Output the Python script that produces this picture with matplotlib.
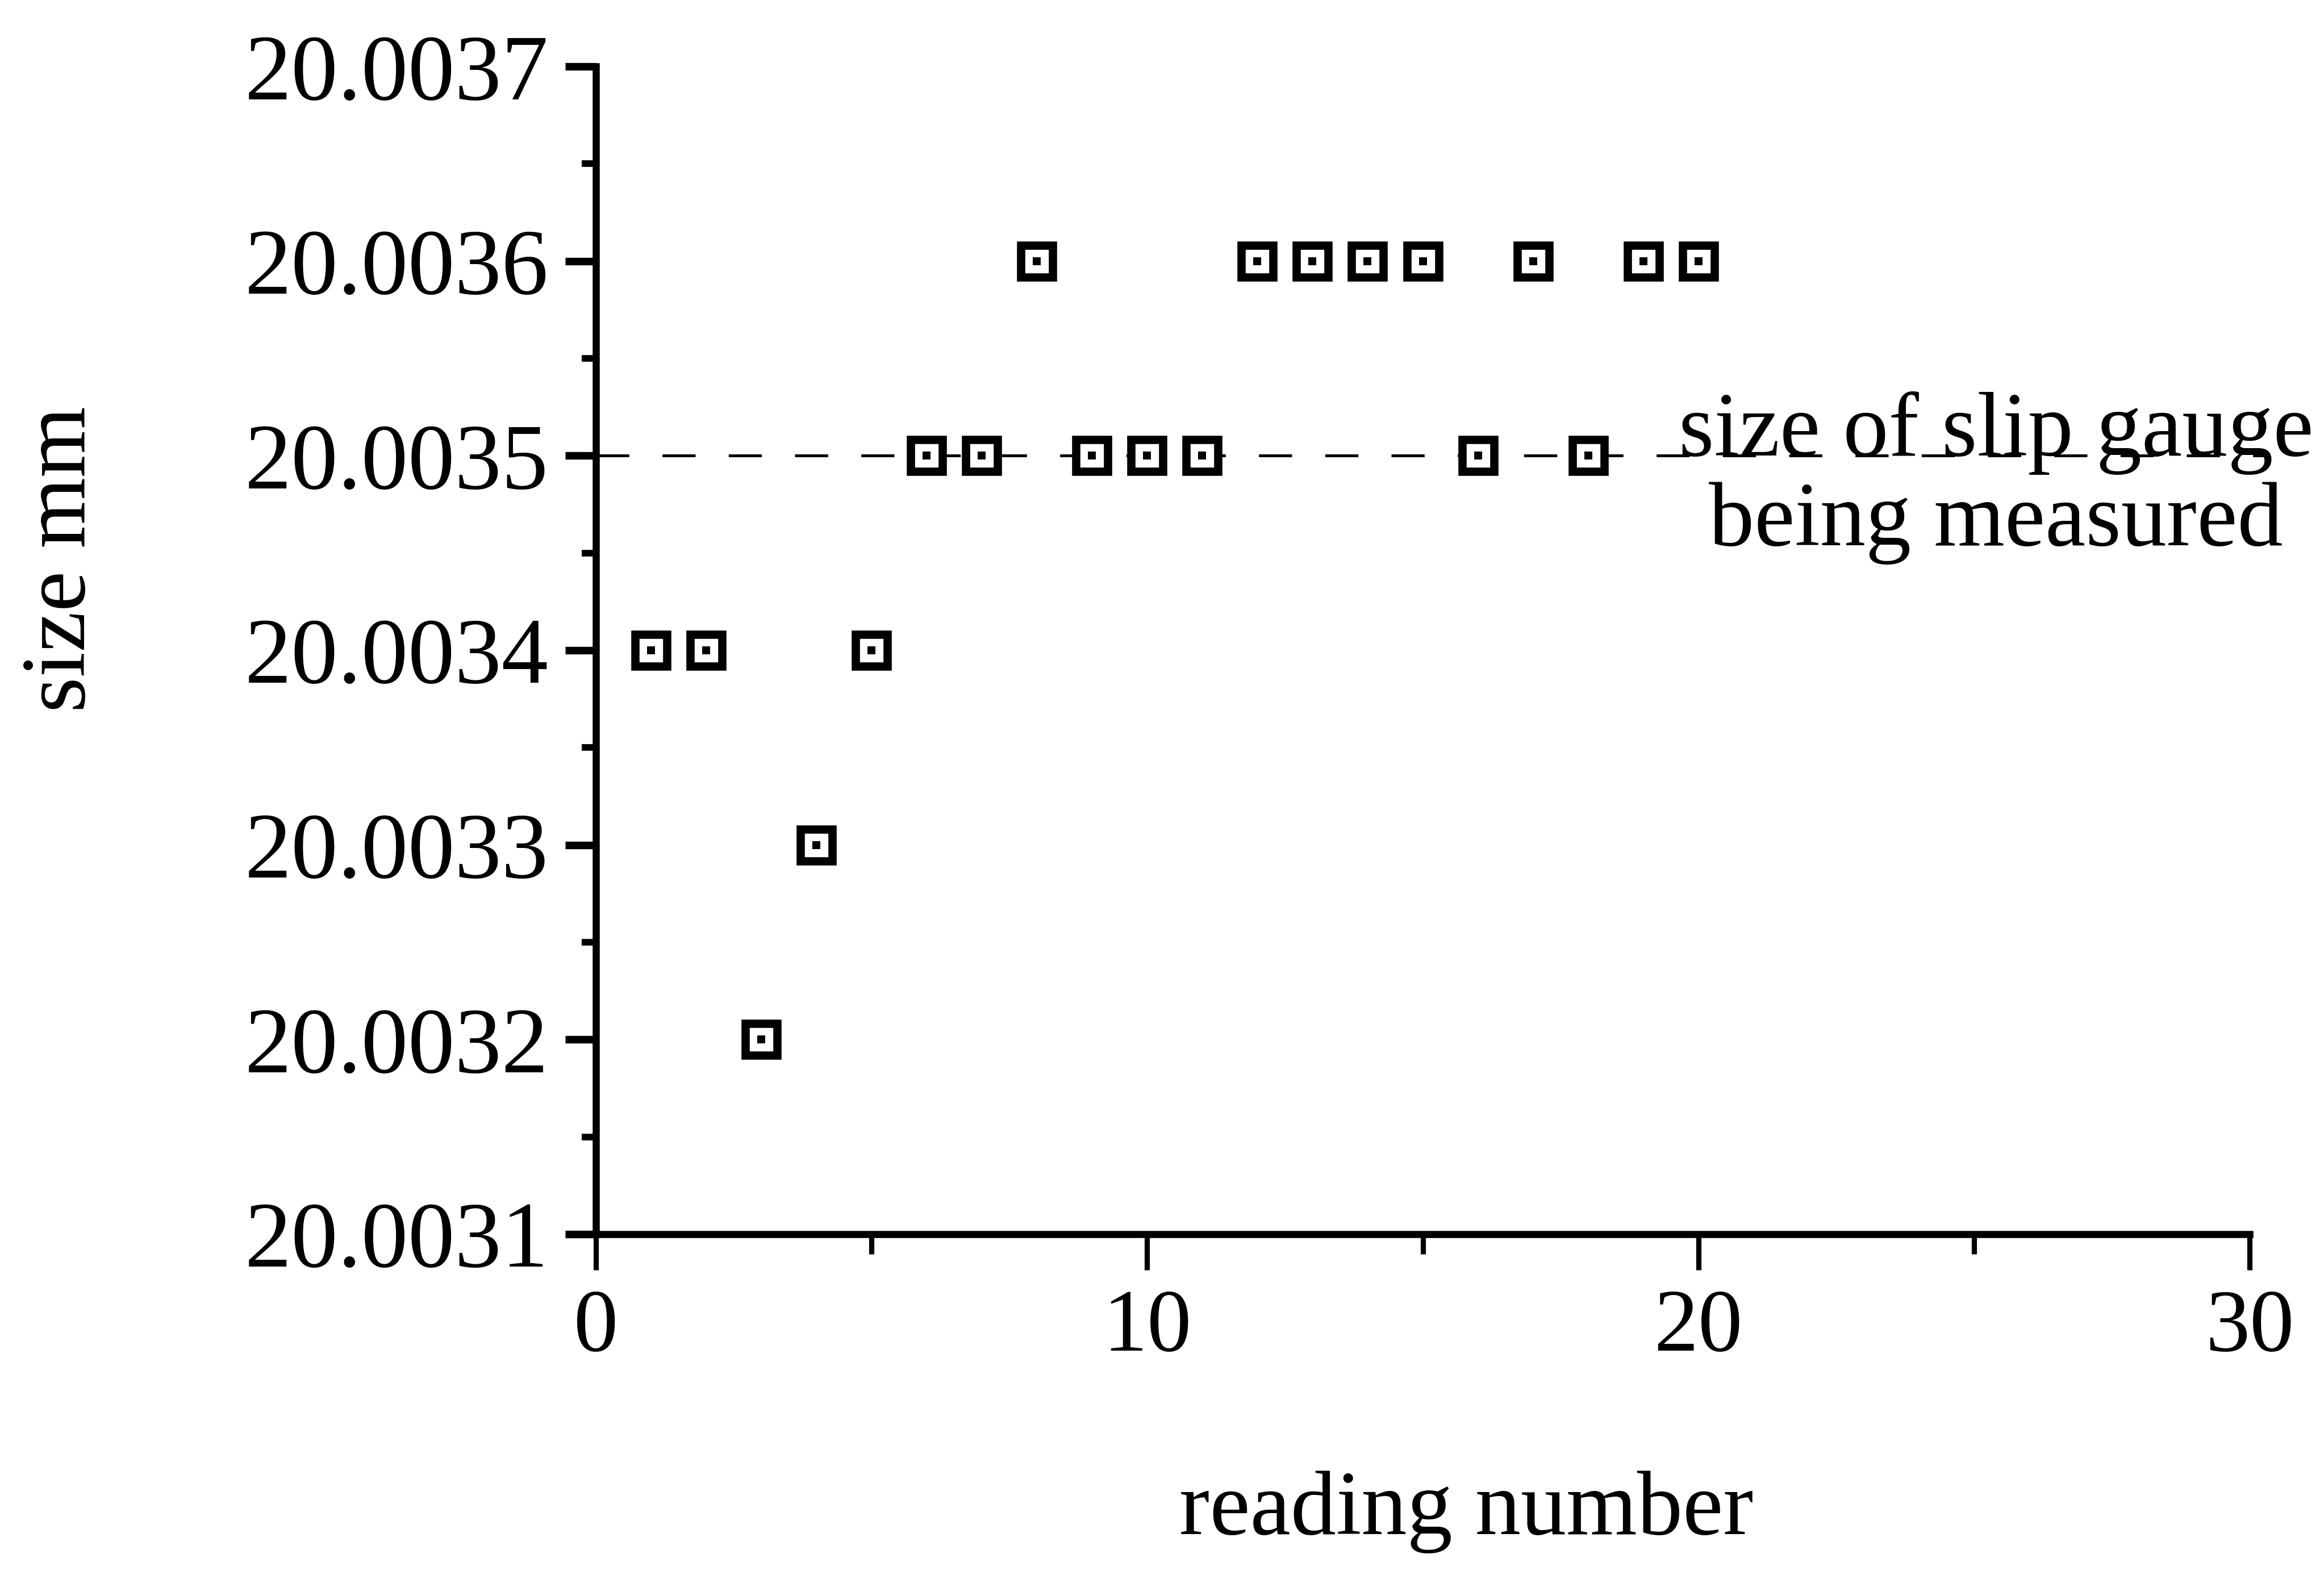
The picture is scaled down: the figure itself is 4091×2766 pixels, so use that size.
import matplotlib.pyplot as plt
from matplotlib.ticker import MultipleLocator, FormatStrFormatter

# Times-like serif font
plt.rcParams['font.family'] = ['Liberation Serif', 'DejaVu Serif']
plt.rcParams['lines.scale_dashes'] = False

# data: readings of the slip gauge
reading_number = [1, 2, 3, 4, 5, 6, 7, 8, 9, 10,
                  11, 12, 13, 14, 15, 16, 17, 18, 19, 20]
size_mm = [20.0034, 20.0034, 20.0032, 20.0033, 20.0034,
           20.0035, 20.0035, 20.0036, 20.0035, 20.0035,
           20.0035, 20.0036, 20.0036, 20.0036, 20.0036,
           20.0035, 20.0036, 20.0035, 20.0036, 20.0036]
gauge_size = 20.0035  # size of slip gauge being measured

x_ticks = [0, 10, 20, 30]
y_ticks = [20.0031, 20.0032, 20.0033, 20.0034, 20.0035, 20.0036, 20.0037]

fig = plt.figure(figsize=(4091 / 300, 2766 / 300), dpi=300)
ax = fig.add_axes([0.2564, 0.2144, 0.7116, 0.7433])

# dashed reference line, runs a little past the end of the axis
ax.axhline(gauge_size, xmin=0, xmax=1.01, color='black', linewidth=1.2,
           dashes=(14, 14), clip_on=False, zorder=1)

# open squares with a dot in the middle
ax.plot(reading_number, size_mm, linestyle='none', marker='s', markersize=13.6,
        markerfacecolor='white', markeredgecolor='black', markeredgewidth=3.5,
        zorder=3)
ax.plot(reading_number, size_mm, linestyle='none', marker='s', markersize=3.2,
        markerfacecolor='black', markeredgecolor='black', markeredgewidth=0,
        zorder=4)

ax.set_xlim(0, 30)
ax.set_ylim(20.0031, 20.0037)
ax.set_xticks(x_ticks)
ax.set_yticks(y_ticks)
ax.xaxis.set_minor_locator(MultipleLocator(5))
ax.yaxis.set_minor_locator(MultipleLocator(0.00005))
ax.yaxis.set_major_formatter(FormatStrFormatter('%.4f'))

for side in ['top', 'right']:
    ax.spines[side].set_visible(False)
for side in ['left', 'bottom']:
    ax.spines[side].set_linewidth(3)

ax.tick_params(axis='y', which='major', direction='out', length=13, width=3.2,
               pad=7, labelsize=39.5)
ax.tick_params(axis='y', which='minor', direction='out', length=6, width=2.8)
ax.tick_params(axis='x', which='major', direction='out', length=15, width=2.2,
               pad=8, labelsize=37.5)
ax.tick_params(axis='x', which='minor', direction='out', length=8.5, width=2.2)

# label next to the reference line
ax.text(25.4, 20.00350, 'size of slip gauge', ha='center', va='baseline',
        fontsize=38.5, clip_on=False)
ax.text(25.4, 20.003454, 'being measured', ha='center', va='baseline',
        fontsize=38.5, clip_on=False)

# axis titles
fig.text(0.027, 0.644, 'size mm', rotation=90, ha='center', va='center',
         fontsize=38.5)
fig.text(0.631, 0.0377, 'reading number', ha='center', va='center',
         fontsize=38.5)

fig.savefig('out.png', dpi=300, facecolor='white')
